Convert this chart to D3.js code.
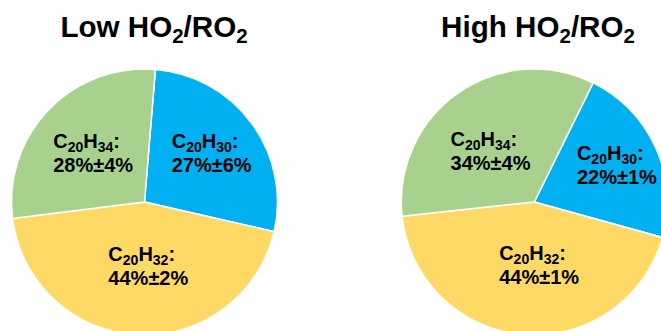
<!DOCTYPE html>
<html>
<head>
<meta charset="utf-8">
<script src="https://cdn.jsdelivr.net/npm/d3@7"></script>
<style>
  html, body { margin: 0; padding: 0; background: #ffffff; overflow: hidden; }
  svg { display: block; }
  text { font-family: "Liberation Sans", Arial, Helvetica, sans-serif; font-weight: bold; fill: #000; }
</style>
</head>
<body>
<svg id="chart" width="661" height="331"></svg>
<script>
// Product distribution of C20 species under two HO2/RO2 regimes (percent ± uncertainty)
const categories = ["C20H30", "C20H32", "C20H34"];
const formulaParts = [
  [["C", false], ["20", true], ["H", false], ["30", true], [":", false]],
  [["C", false], ["20", true], ["H", false], ["32", true], [":", false]],
  [["C", false], ["20", true], ["H", false], ["34", true], [":", false]]
];
const lowValues = [27, 44, 28];
const lowErrors = [6, 2, 4];
const highValues = [22, 44, 34];
const highErrors = [1, 1, 4];
const panelNames = ["Low", "High"];

const colors = d3.scaleOrdinal()
  .domain(categories)
  .range(["#00B0F0", "#FFD966", "#A9D18E"]);

// Panel geometry and label placement (radius fraction along each slice's mid-angle, plus nudges)
const panels = [
  {
    name: panelNames[0], values: lowValues, errors: lowErrors,
    cx: 144.5, cy: 202, r: 133, startDeg: 4.7, titleX: 154,
    labels: [{ k: 0.626, dx: 0, dy: 0 }, { k: 0.477, dx: 7, dy: 0 }, { k: 0.535, dx: 0, dy: 0 }]
  },
  {
    name: panelNames[1], values: highValues, errors: highErrors,
    cx: 534.3, cy: 202, r: 133, startDeg: 26.3, titleX: 538,
    labels: [{ k: 0.68, dx: 0, dy: 0 }, { k: 0.477, dx: 10, dy: 0 }, { k: 0.51, dx: -5, dy: 4 }]
  }
];

const svg = d3.select("#chart");
const rad = Math.PI / 180;

panels.forEach(p => {
  const data = categories.map((c, i) => ({
    key: c, value: p.values[i], err: p.errors[i], parts: formulaParts[i], layout: p.labels[i]
  }));

  const pie = d3.pie()
    .sort(null)
    .value(d => d.value)
    .startAngle(p.startDeg * rad)
    .endAngle(p.startDeg * rad + 2 * Math.PI);

  const arc = d3.arc().innerRadius(0).outerRadius(p.r);

  const g = svg.append("g").attr("transform", `translate(${p.cx},${p.cy})`);

  const arcs = pie(data);

  g.selectAll("path.slice")
    .data(arcs)
    .join("path")
    .attr("class", "slice")
    .attr("d", arc)
    .attr("fill", d => colors(d.data.key))
    .attr("stroke", "#ffffff")
    .attr("stroke-width", 1.5)
    .attr("stroke-linejoin", "round");

  // Two-line, left-aligned labels centred on a point along the slice mid-angle
  arcs.forEach(a => {
    const L = a.data.layout;
    const mid = (a.startAngle + a.endAngle) / 2;
    const rr = p.r * L.k;
    const lx = Math.sin(mid) * rr + L.dx;
    const ly = -Math.cos(mid) * rr + L.dy;

    const t = g.append("text").attr("font-size", 20);
    a.data.parts.forEach(([s, sub], j) => {
      const ts = t.append("tspan").text(s);
      if (j === 0) ts.attr("x", 0).attr("y", 0);
      if (sub) ts.attr("font-size", 14).attr("dy", 4);
      else if (j > 0 && a.data.parts[j - 1][1]) ts.attr("dy", -4);
    });
    t.append("tspan").attr("x", 0).attr("y", 24)
      .text(`${a.data.value}%±${a.data.err}%`);

    const nodes = t.selectAll("tspan").nodes();
    const w2 = nodes[nodes.length - 1].getComputedTextLength();
    const x0 = lx - w2 / 2;
    const y1 = ly - 4.85;
    t.attr("transform", `translate(${x0},${y1})`);
  });

  // Panel title: "<name> HO2/RO2" with subscripted 2s
  const title = svg.append("text")
    .attr("x", p.titleX)
    .attr("y", 36.7)
    .attr("text-anchor", "middle")
    .attr("font-size", 29.6);
  title.append("tspan").text(`${p.name} HO`);
  title.append("tspan").text("2").attr("font-size", 20.5).attr("dy", 6);
  title.append("tspan").text("/RO").attr("dy", -6);
  title.append("tspan").text("2").attr("font-size", 20.5).attr("dy", 6);
});
</script>
</body>
</html>
